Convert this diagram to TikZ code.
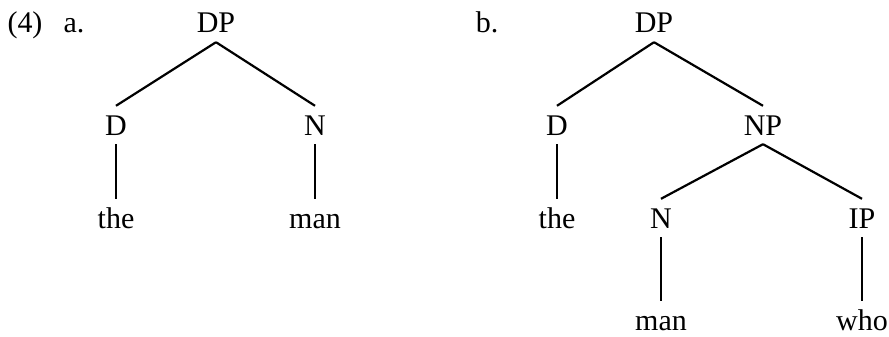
\documentclass[tikz,border=0pt]{standalone}
\usepackage{fontspec}
\setmainfont{Liberation Serif}
\usepackage{tikz}
\usetikzlibrary{positioning,backgrounds}
\pgfdeclarelayer{edgelayer}
\pgfdeclarelayer{nodelayer}
\pgfsetlayers{background,edgelayer,nodelayer,main}
\tikzstyle{none}=[inner sep=0mm]
\tikzstyle{lbl}=[inner xsep=0pt,inner ysep=9pt,text height=20pt,text depth=0pt,anchor=base,font=\fontsize{30}{36}\selectfont]
\tikzstyle{num}=[inner sep=0pt,anchor=base,font=\fontsize{30}{36}\selectfont]
\tikzstyle{branch}=[line width=2.2pt]

\begin{document}
\begin{tikzpicture}[x=1pt,y=-1pt]
	\useasboundingbox (0,0) rectangle (889,337);
	\begin{pgfonlayer}{nodelayer}
		\node [style=num] (0) at (25, 33) {(4)};
		\node [style=num] (1) at (74, 33) {a.};
		\node [style=lbl] (2) at (216, 33) {DP};
		\node [style=lbl] (3) at (116, 135) {D};
		\node [style=lbl] (4) at (315, 135) {N};
		\node [style=lbl] (5) at (116, 228) {the};
		\node [style=lbl] (6) at (315, 228) {man};
		\node [style=num] (7) at (487, 33) {b.};
		\node [style=lbl] (8) at (654, 33) {DP};
		\node [style=lbl] (9) at (557, 135) {D};
		\node [style=lbl] (10) at (763, 135) {NP};
		\node [style=lbl] (11) at (557, 228) {the};
		\node [style=lbl] (12) at (661, 228) {N};
		\node [style=lbl] (13) at (862, 228) {IP};
		\node [style=lbl] (14) at (661, 330) {man};
		\node [style=lbl] (15) at (862, 330) {who};
	\end{pgfonlayer}
	\begin{pgfonlayer}{edgelayer}
		\draw [style=branch] (2.south) to (3.north);
		\draw [style=branch] (2.south) to (4.north);
		\draw [style=branch] (3.south) to (5.north);
		\draw [style=branch] (4.south) to (6.north);
		\draw [style=branch] (8.south) to (9.north);
		\draw [style=branch] (8.south) to (10.north);
		\draw [style=branch] (9.south) to (11.north);
		\draw [style=branch] (10.south) to (12.north);
		\draw [style=branch] (10.south) to (13.north);
		\draw [style=branch] (12.south) to (14.north);
		\draw [style=branch] (13.south) to (15.north);
	\end{pgfonlayer}
\end{tikzpicture}
\end{document}
